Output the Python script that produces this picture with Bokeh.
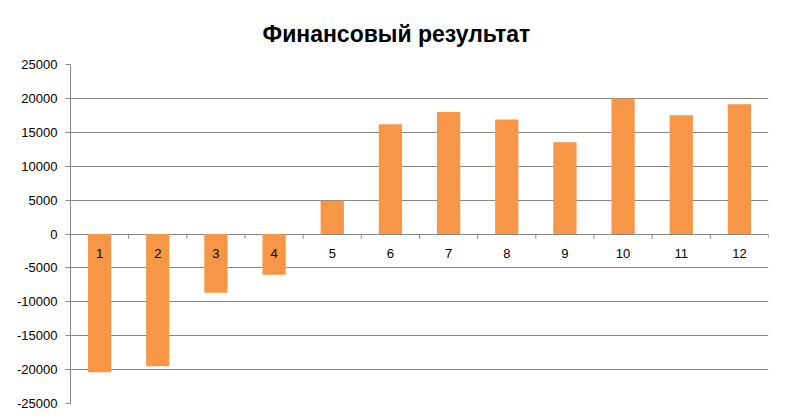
from bokeh.plotting import figure
from bokeh.models import Range1d, FixedTicker, ColumnDataSource, NumeralTickFormatter
from bokeh.core.properties import value
from bokeh.embed import file_html
from bokeh.resources import INLINE

title = "Финансовый результат"
categories = [1, 2, 3, 4, 5, 6, 7, 8, 9, 10, 11, 12]
labels = ["1", "2", "3", "4", "5", "6", "7", "8", "9", "10", "11", "12"]
values = [-20400, -19500, -8650, -6000, 4900, 16200, 18000, 16900, 13550, 20000, 17500, 19150]
y_ticks = [-25000, -20000, -15000, -10000, -5000, 0, 5000, 10000, 15000, 20000, 25000]

FONT = "Liberation Sans"
GRID = "#878787"
BAR = "#F79646"

p = figure(width=780, height=412, output_backend="svg", toolbar_location=None,
           x_range=Range1d(0.5, 12.5), y_range=Range1d(-25000, 25000),
           min_border_left=70, min_border_right=12, min_border_top=64, min_border_bottom=9)
p.title.text = title
p.title.align = "left"
p.title.offset = 192
p.title.standoff = 36
p.title.text_font = FONT
p.title.text_font_size = "23px"
p.title.text_font_style = "bold"
p.title.text_color = "#000000"
p.outline_line_color = None
p.background_fill_color = "white"
p.border_fill_color = "white"

p.xaxis.visible = False
p.xgrid.visible = False
p.ygrid.ticker = FixedTicker(ticks=y_ticks)
p.ygrid.grid_line_color = GRID
p.ygrid.grid_line_width = 1

ya = p.yaxis[0]
ya.ticker = FixedTicker(ticks=y_ticks)
ya.formatter = NumeralTickFormatter(format="0")
ya.axis_line_color = GRID
ya.major_tick_line_color = GRID
ya.major_tick_out = 5
ya.major_tick_in = 0
ya.minor_tick_line_color = None
ya.major_label_text_font = FONT
ya.major_label_text_font_size = "13px"
ya.major_label_text_color = "#000000"
ya.major_label_standoff = 8

src = ColumnDataSource(dict(x=categories, top=values, label=labels, zero=[0] * len(categories)))
p.vbar(x="x", top="top", bottom=0, width=0.4, source=src, fill_color=BAR, line_color=None)

# category boundary tick marks along the zero axis
bx = [c + 0.5 for c in categories]
p.segment(x0=bx, y0=[0] * len(bx), x1=bx, y1=[-700] * len(bx), line_color=GRID, line_width=1)

p.text(x="x", y="zero", text="label", source=src, y_offset=19,
       text_align="center", text_baseline="middle",
       text_font=value(FONT), text_font_size="13px", text_color="#000000")

open("out.html", "w").write(file_html(p, INLINE))
